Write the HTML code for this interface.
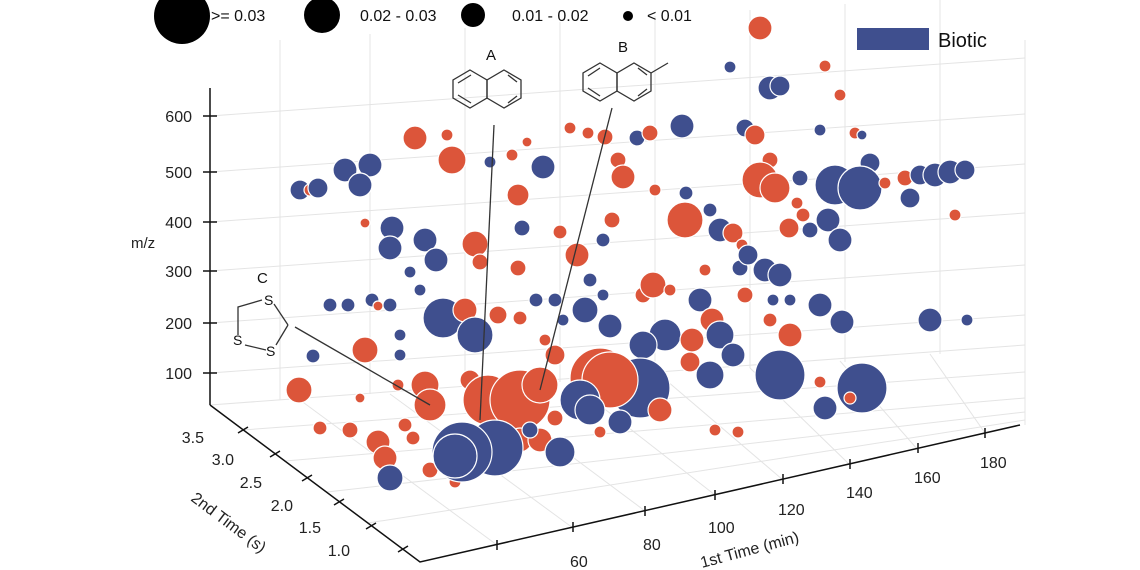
<!DOCTYPE html>
<html><head><meta charset="utf-8"><style>
html,body{margin:0;padding:0;background:#fff;}
svg{display:block;font-family:"Liberation Sans",sans-serif;}
</style></head><body>
<svg width="1140" height="570" viewBox="0 0 1140 570" xmlns="http://www.w3.org/2000/svg">
<rect width="1140" height="570" fill="#fff"/>
<g stroke="#e4e4e4" stroke-width="1" fill="none">
<line x1="210" y1="116" x2="1025" y2="58"/>
<line x1="210" y1="172" x2="1025" y2="114"/>
<line x1="210" y1="222" x2="1025" y2="164"/>
<line x1="210" y1="271" x2="1025" y2="213"/>
<line x1="210" y1="323" x2="1025" y2="265"/>
<line x1="210" y1="373" x2="1025" y2="315"/>
<line x1="210" y1="405" x2="1025" y2="345"/>
<line x1="280" y1="40" x2="280" y2="400"/>
<line x1="370" y1="34" x2="370" y2="394"/>
<line x1="465" y1="28" x2="465" y2="388"/>
<line x1="560" y1="22" x2="560" y2="382"/>
<line x1="655" y1="16" x2="655" y2="376"/>
<line x1="750" y1="10" x2="750" y2="368"/>
<line x1="845" y1="4" x2="845" y2="362"/>
<line x1="940" y1="0" x2="940" y2="354"/>
<line x1="1025" y1="40" x2="1025" y2="425"/>
<line x1="243" y1="430" x2="1025" y2="372"/>
<line x1="285" y1="461" x2="1025" y2="398"/>
<line x1="327" y1="492" x2="1025" y2="412"/>
<line x1="368" y1="523" x2="1025" y2="420"/>
<line x1="497" y1="545" x2="300" y2="400"/>
<line x1="573" y1="528" x2="390" y2="394"/>
<line x1="645" y1="511" x2="480" y2="388"/>
<line x1="715" y1="495" x2="570" y2="382"/>
<line x1="783" y1="480" x2="660" y2="375"/>
<line x1="850" y1="465" x2="750" y2="368"/>
<line x1="918" y1="450" x2="840" y2="361"/>
<line x1="985" y1="433" x2="930" y2="354"/>
</g>
<g stroke="#fff" stroke-width="1.2">
<circle cx="300" cy="190" r="10" fill="#3f4f8e"/><circle cx="310" cy="190" r="6" fill="#dc553a"/><circle cx="318" cy="188" r="10" fill="#3f4f8e"/>
<circle cx="345" cy="170" r="12" fill="#3f4f8e"/><circle cx="370" cy="165" r="12" fill="#3f4f8e"/><circle cx="360" cy="185" r="12" fill="#3f4f8e"/>
<circle cx="365" cy="223" r="5" fill="#dc553a"/><circle cx="392" cy="228" r="12" fill="#3f4f8e"/><circle cx="390" cy="248" r="12" fill="#3f4f8e"/>
<circle cx="425" cy="240" r="12" fill="#3f4f8e"/><circle cx="436" cy="260" r="12" fill="#3f4f8e"/><circle cx="410" cy="272" r="6" fill="#3f4f8e"/>
<circle cx="475" cy="244" r="13" fill="#dc553a"/><circle cx="480" cy="262" r="8" fill="#dc553a"/>
<circle cx="330" cy="305" r="7" fill="#3f4f8e"/><circle cx="348" cy="305" r="7" fill="#3f4f8e"/><circle cx="372" cy="300" r="7" fill="#3f4f8e"/><circle cx="378" cy="306" r="5" fill="#dc553a"/><circle cx="390" cy="305" r="7" fill="#3f4f8e"/>
<circle cx="420" cy="290" r="6" fill="#3f4f8e"/><circle cx="400" cy="335" r="6" fill="#3f4f8e"/><circle cx="400" cy="355" r="6" fill="#3f4f8e"/>
<circle cx="443" cy="318" r="20" fill="#3f4f8e"/><circle cx="465" cy="310" r="12" fill="#dc553a"/><circle cx="475" cy="335" r="18" fill="#3f4f8e"/>
<circle cx="365" cy="350" r="13" fill="#dc553a"/><circle cx="313" cy="356" r="7" fill="#3f4f8e"/><circle cx="299" cy="390" r="13" fill="#dc553a"/>
<circle cx="360" cy="398" r="5" fill="#dc553a"/><circle cx="398" cy="385" r="6" fill="#dc553a"/><circle cx="425" cy="385" r="14" fill="#dc553a"/>
<circle cx="320" cy="428" r="7" fill="#dc553a"/><circle cx="350" cy="430" r="8" fill="#dc553a"/><circle cx="378" cy="442" r="12" fill="#dc553a"/>
<circle cx="385" cy="458" r="12" fill="#dc553a"/><circle cx="405" cy="425" r="7" fill="#dc553a"/><circle cx="413" cy="438" r="7" fill="#dc553a"/>
<circle cx="415" cy="138" r="12" fill="#dc553a"/><circle cx="447" cy="135" r="6" fill="#dc553a"/><circle cx="452" cy="160" r="14" fill="#dc553a"/>
<circle cx="490" cy="162" r="6" fill="#3f4f8e"/><circle cx="543" cy="167" r="12" fill="#3f4f8e"/><circle cx="518" cy="195" r="11" fill="#dc553a"/>
<circle cx="512" cy="155" r="6" fill="#dc553a"/><circle cx="527" cy="142" r="5" fill="#dc553a"/><circle cx="570" cy="128" r="6" fill="#dc553a"/>
<circle cx="588" cy="133" r="6" fill="#dc553a"/><circle cx="605" cy="137" r="8" fill="#dc553a"/><circle cx="618" cy="160" r="8" fill="#dc553a"/><circle cx="623" cy="177" r="12" fill="#dc553a"/>
<circle cx="637" cy="138" r="8" fill="#3f4f8e"/><circle cx="650" cy="133" r="8" fill="#dc553a"/><circle cx="682" cy="126" r="12" fill="#3f4f8e"/>
<circle cx="686" cy="193" r="7" fill="#3f4f8e"/><circle cx="655" cy="190" r="6" fill="#dc553a"/><circle cx="685" cy="220" r="18" fill="#dc553a"/>
<circle cx="560" cy="232" r="7" fill="#dc553a"/><circle cx="603" cy="240" r="7" fill="#3f4f8e"/><circle cx="612" cy="220" r="8" fill="#dc553a"/>
<circle cx="522" cy="228" r="8" fill="#3f4f8e"/><circle cx="518" cy="268" r="8" fill="#dc553a"/><circle cx="577" cy="255" r="12" fill="#dc553a"/>
<circle cx="590" cy="280" r="7" fill="#3f4f8e"/><circle cx="555" cy="300" r="7" fill="#3f4f8e"/><circle cx="536" cy="300" r="7" fill="#3f4f8e"/>
<circle cx="498" cy="315" r="9" fill="#dc553a"/><circle cx="520" cy="318" r="7" fill="#dc553a"/><circle cx="563" cy="320" r="6" fill="#3f4f8e"/>
<circle cx="585" cy="310" r="13" fill="#3f4f8e"/><circle cx="603" cy="295" r="6" fill="#3f4f8e"/><circle cx="610" cy="326" r="12" fill="#3f4f8e"/>
<circle cx="643" cy="295" r="8" fill="#dc553a"/><circle cx="653" cy="285" r="13" fill="#dc553a"/><circle cx="670" cy="290" r="6" fill="#dc553a"/>
<circle cx="700" cy="300" r="12" fill="#3f4f8e"/><circle cx="705" cy="270" r="6" fill="#dc553a"/><circle cx="710" cy="210" r="7" fill="#3f4f8e"/>
<circle cx="720" cy="230" r="12" fill="#3f4f8e"/><circle cx="733" cy="233" r="10" fill="#dc553a"/><circle cx="730" cy="67" r="6" fill="#3f4f8e"/>
<circle cx="760" cy="28" r="12" fill="#dc553a"/><circle cx="770" cy="88" r="12" fill="#3f4f8e"/><circle cx="780" cy="86" r="10" fill="#3f4f8e"/><circle cx="745" cy="128" r="9" fill="#3f4f8e"/><circle cx="755" cy="135" r="10" fill="#dc553a"/>
<circle cx="770" cy="160" r="8" fill="#dc553a"/><circle cx="800" cy="178" r="8" fill="#3f4f8e"/><circle cx="760" cy="180" r="18" fill="#dc553a"/><circle cx="775" cy="188" r="15" fill="#dc553a"/>
<circle cx="825" cy="66" r="6" fill="#dc553a"/><circle cx="840" cy="95" r="6" fill="#dc553a"/><circle cx="855" cy="133" r="6" fill="#dc553a"/><circle cx="862" cy="135" r="5" fill="#3f4f8e"/><circle cx="820" cy="130" r="6" fill="#3f4f8e"/>
<circle cx="797" cy="203" r="6" fill="#dc553a"/><circle cx="803" cy="215" r="7" fill="#dc553a"/><circle cx="810" cy="230" r="8" fill="#3f4f8e"/><circle cx="789" cy="228" r="10" fill="#dc553a"/>
<circle cx="828" cy="220" r="12" fill="#3f4f8e"/><circle cx="840" cy="240" r="12" fill="#3f4f8e"/><circle cx="835" cy="185" r="20" fill="#3f4f8e"/><circle cx="870" cy="163" r="10" fill="#3f4f8e"/>
<circle cx="860" cy="188" r="22" fill="#3f4f8e"/><circle cx="885" cy="183" r="6" fill="#dc553a"/><circle cx="910" cy="198" r="10" fill="#3f4f8e"/><circle cx="955" cy="215" r="6" fill="#dc553a"/>
<circle cx="905" cy="178" r="8" fill="#dc553a"/><circle cx="920" cy="175" r="10" fill="#3f4f8e"/><circle cx="935" cy="175" r="12" fill="#3f4f8e"/><circle cx="950" cy="172" r="12" fill="#3f4f8e"/><circle cx="965" cy="170" r="10" fill="#3f4f8e"/>
<circle cx="740" cy="268" r="8" fill="#3f4f8e"/><circle cx="742" cy="245" r="6" fill="#dc553a"/><circle cx="748" cy="255" r="10" fill="#3f4f8e"/><circle cx="765" cy="270" r="12" fill="#3f4f8e"/><circle cx="780" cy="275" r="12" fill="#3f4f8e"/>
<circle cx="745" cy="295" r="8" fill="#dc553a"/><circle cx="773" cy="300" r="6" fill="#3f4f8e"/><circle cx="790" cy="300" r="6" fill="#3f4f8e"/><circle cx="770" cy="320" r="7" fill="#dc553a"/>
<circle cx="820" cy="305" r="12" fill="#3f4f8e"/><circle cx="842" cy="322" r="12" fill="#3f4f8e"/><circle cx="930" cy="320" r="12" fill="#3f4f8e"/><circle cx="967" cy="320" r="6" fill="#3f4f8e"/>
<circle cx="790" cy="335" r="12" fill="#dc553a"/><circle cx="712" cy="320" r="12" fill="#dc553a"/><circle cx="665" cy="335" r="16" fill="#3f4f8e"/><circle cx="643" cy="345" r="14" fill="#3f4f8e"/>
<circle cx="692" cy="340" r="12" fill="#dc553a"/><circle cx="720" cy="335" r="14" fill="#3f4f8e"/><circle cx="733" cy="355" r="12" fill="#3f4f8e"/><circle cx="690" cy="362" r="10" fill="#dc553a"/><circle cx="710" cy="375" r="14" fill="#3f4f8e"/>
<circle cx="555" cy="355" r="10" fill="#dc553a"/><circle cx="545" cy="340" r="6" fill="#dc553a"/><circle cx="470" cy="380" r="10" fill="#dc553a"/>
<circle cx="780" cy="375" r="25" fill="#3f4f8e"/><circle cx="820" cy="382" r="6" fill="#dc553a"/><circle cx="855" cy="380" r="6" fill="#dc553a"/><circle cx="862" cy="388" r="25" fill="#3f4f8e"/>
<circle cx="850" cy="398" r="6" fill="#dc553a"/><circle cx="825" cy="408" r="12" fill="#3f4f8e"/><circle cx="715" cy="430" r="6" fill="#dc553a"/><circle cx="738" cy="432" r="6" fill="#dc553a"/>
<circle cx="600" cy="378" r="30" fill="#dc553a"/><circle cx="640" cy="388" r="30" fill="#3f4f8e"/><circle cx="610" cy="380" r="28" fill="#dc553a"/><circle cx="660" cy="410" r="12" fill="#dc553a"/>
<circle cx="488" cy="400" r="25" fill="#dc553a"/><circle cx="520" cy="400" r="30" fill="#dc553a"/><circle cx="540" cy="385" r="18" fill="#dc553a"/><circle cx="580" cy="400" r="20" fill="#3f4f8e"/>
<circle cx="430" cy="405" r="16" fill="#dc553a"/><circle cx="590" cy="410" r="15" fill="#3f4f8e"/><circle cx="620" cy="422" r="12" fill="#3f4f8e"/><circle cx="600" cy="432" r="6" fill="#dc553a"/>
<circle cx="555" cy="418" r="8" fill="#dc553a"/><circle cx="505" cy="440" r="12" fill="#dc553a"/><circle cx="520" cy="440" r="12" fill="#dc553a"/><circle cx="540" cy="440" r="12" fill="#dc553a"/>
<circle cx="530" cy="430" r="8" fill="#3f4f8e"/><circle cx="440" cy="455" r="8" fill="#dc553a"/><circle cx="430" cy="470" r="8" fill="#dc553a"/><circle cx="455" cy="482" r="6" fill="#dc553a"/>
<circle cx="560" cy="452" r="15" fill="#3f4f8e"/><circle cx="390" cy="478" r="13" fill="#3f4f8e"/>
<circle cx="495" cy="448" r="28" fill="#3f4f8e"/><circle cx="462" cy="452" r="30" fill="#3f4f8e"/><circle cx="455" cy="456" r="22" fill="#3f4f8e"/>
</g>
<g stroke="#333" stroke-width="1.3" fill="none">
<line x1="494" y1="125" x2="480" y2="420"/>
<line x1="612" y1="108" x2="540" y2="390"/>
<line x1="295" y1="327" x2="430" y2="405"/>
<polygon points="470,70 487,80 487,98 470,108 453,98 453,80"/>
<polygon points="504,70 521,80 521,98 504,108 487,98 487,80"/>
<line x1="458" y1="83" x2="471" y2="75"/><line x1="458" y1="95" x2="471" y2="103"/><line x1="508" y1="75" x2="517" y2="82"/><line x1="508" y1="103" x2="517" y2="96"/>
<polygon points="600,63 617,73 617,91 600,101 583,91 583,73"/>
<polygon points="634,63 651,73 651,91 634,101 617,91 617,73"/>
<line x1="651" y1="73" x2="668" y2="63"/>
<line x1="588" y1="76" x2="600" y2="68"/><line x1="588" y1="88" x2="600" y2="96"/><line x1="638" y1="68" x2="647" y2="75"/><line x1="638" y1="96" x2="647" y2="89"/>
<polyline points="262,300 238,307 238,335"/><line x1="274" y1="304" x2="288" y2="325"/><line x1="288" y1="325" x2="276" y2="345"/><line x1="245" y1="345" x2="266" y2="350"/>
</g>
<g font-size="14" fill="#111">
<text x="486" y="60" font-size="15">A</text><text x="618" y="52" font-size="15">B</text><text x="257" y="283" font-size="15">C</text>
<text x="264" y="305">S</text><text x="233" y="345">S</text><text x="266" y="356">S</text>
</g>
<g stroke="#111" stroke-width="1.5" fill="none">
<line x1="210" y1="88" x2="210" y2="405"/>
<line x1="203" y1="116" x2="217" y2="116"/><line x1="203" y1="172" x2="217" y2="172"/><line x1="203" y1="222" x2="217" y2="222"/><line x1="203" y1="271" x2="217" y2="271"/><line x1="203" y1="323" x2="217" y2="323"/><line x1="203" y1="373" x2="217" y2="373"/>
<polyline points="210,405 420,562 1020,425"/>
<line x1="238" y1="433" x2="248" y2="427"/><line x1="270" y1="457" x2="280" y2="451"/><line x1="302" y1="481" x2="312" y2="475"/><line x1="334" y1="505" x2="344" y2="499"/><line x1="366" y1="529" x2="376" y2="523"/><line x1="398" y1="552" x2="408" y2="546"/>
<line x1="497" y1="540" x2="497" y2="550"/><line x1="573" y1="522" x2="573" y2="532"/><line x1="645" y1="506" x2="645" y2="516"/><line x1="715" y1="490" x2="715" y2="500"/><line x1="783" y1="474" x2="783" y2="484"/><line x1="850" y1="459" x2="850" y2="469"/><line x1="918" y1="443" x2="918" y2="453"/><line x1="985" y1="428" x2="985" y2="438"/>
</g>
<g font-size="16" fill="#222">
<text x="192" y="122" text-anchor="end">600</text><text x="192" y="178" text-anchor="end">500</text><text x="192" y="228" text-anchor="end">400</text>
<text x="192" y="277" text-anchor="end">300</text><text x="192" y="329" text-anchor="end">200</text><text x="192" y="379" text-anchor="end">100</text>
<text x="131" y="248" font-size="15">m/z</text>
<text x="204" y="443" text-anchor="end">3.5</text><text x="234" y="465" text-anchor="end">3.0</text><text x="262" y="488" text-anchor="end">2.5</text>
<text x="293" y="511" text-anchor="end">2.0</text><text x="321" y="533" text-anchor="end">1.5</text><text x="350" y="556" text-anchor="end">1.0</text>
<text x="190" y="500" transform="rotate(37 190 500)">2nd Time (s)</text>
<text x="570" y="567">60</text><text x="643" y="550">80</text><text x="708" y="533">100</text><text x="778" y="515">120</text>
<text x="846" y="498">140</text><text x="914" y="483">160</text><text x="980" y="468">180</text>
<text x="702" y="568" transform="rotate(-15 702 568)">1st Time (min)</text>
</g>
<g fill="#000">
<circle cx="182" cy="16" r="28"/><circle cx="322" cy="15" r="18"/><circle cx="473" cy="15" r="12"/><circle cx="628" cy="16" r="5"/>
</g>
<g font-size="16" fill="#111">
<text x="211" y="21">&gt;= 0.03</text><text x="360" y="21">0.02 - 0.03</text><text x="512" y="21">0.01 - 0.02</text><text x="647" y="21">&lt; 0.01</text>
</g>
<rect x="857" y="28" width="72" height="22" fill="#3f4f8e"/>
<text x="938" y="47" font-size="20" fill="#111">Biotic</text>
</svg>
</body></html>
